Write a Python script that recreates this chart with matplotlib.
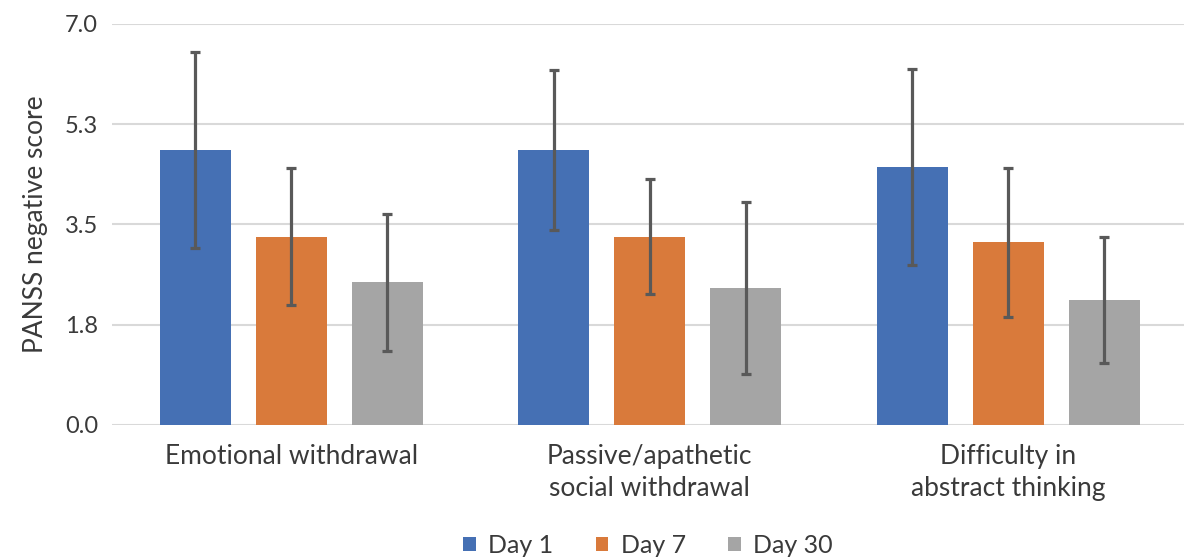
import matplotlib
matplotlib.use("Agg")
import matplotlib.pyplot as plt
import numpy as np

categories = ["Emotional withdrawal", "Passive/apathetic\nsocial withdrawal", "Difficulty in\nabstract thinking"]
series = ["Day 1", "Day 7", "Day 30"]
means = {
    "Day 1": [4.80, 4.80, 4.50],
    "Day 7": [3.29, 3.29, 3.19],
    "Day 30": [2.49, 2.39, 2.19],
}
errors = {
    "Day 1": [1.71, 1.40, 1.71],
    "Day 7": [1.20, 1.00, 1.30],
    "Day 30": [1.20, 1.50, 1.10],
}
colors = {"Day 1": "#4570B4", "Day 7": "#D97A3B", "Day 30": "#A5A5A5"}
yticks = [0.0, 1.75, 3.5, 5.25, 7.0]
ytick_labels = ["0.0", "1.8", "3.5", "5.3", "7.0"]

plt.rcParams['font.family'] = ['Lato', 'DejaVu Sans']

fig = plt.figure(figsize=(11.84, 5.57), dpi=100)
ax = fig.add_axes([0.0946, 0.237, 0.9054, 0.72])

x = np.arange(len(categories))
width = 0.198
step = 0.268

for i, s in enumerate(series):
    ax.bar(x + (i - 1) * step, means[s], width, color=colors[s], label=s, zorder=3)
    ax.errorbar(x + (i - 1) * step, means[s], yerr=errors[s], fmt="none",
                ecolor="#595959", elinewidth=2.3, capsize=3.5, capthick=2.3, zorder=4)

ax.set_xlim(-0.5, 2.49)
ax.set_ylim(0, 7.0)
ax.set_yticks(yticks)
ax.set_yticklabels(ytick_labels, fontsize=17, color="#3A3A3A")
ax.set_xticks(x)
ax.set_xticklabels(categories, fontsize=19, color="#3A3A3A", linespacing=1.35)
ax.tick_params(axis="both", length=0)
ax.tick_params(axis="x", pad=14)
ax.tick_params(axis="y", pad=10)
ax.grid(axis="y", color="#D9D9D9", linewidth=1.5, zorder=0)
for sp in ax.spines.values():
    sp.set_visible(False)
ax.set_ylabel("PANSS negative score", fontsize=19, color="#3A3A3A", labelpad=12)

ax.legend(loc="lower center", bbox_to_anchor=(0.5, -0.385), ncol=3, frameon=False,
          fontsize=18, handlelength=0.5, handleheight=0.5, handletextpad=0.5,
          columnspacing=1.7, labelcolor="#3A3A3A")

fig.savefig("out.png", dpi=100, facecolor="white")
